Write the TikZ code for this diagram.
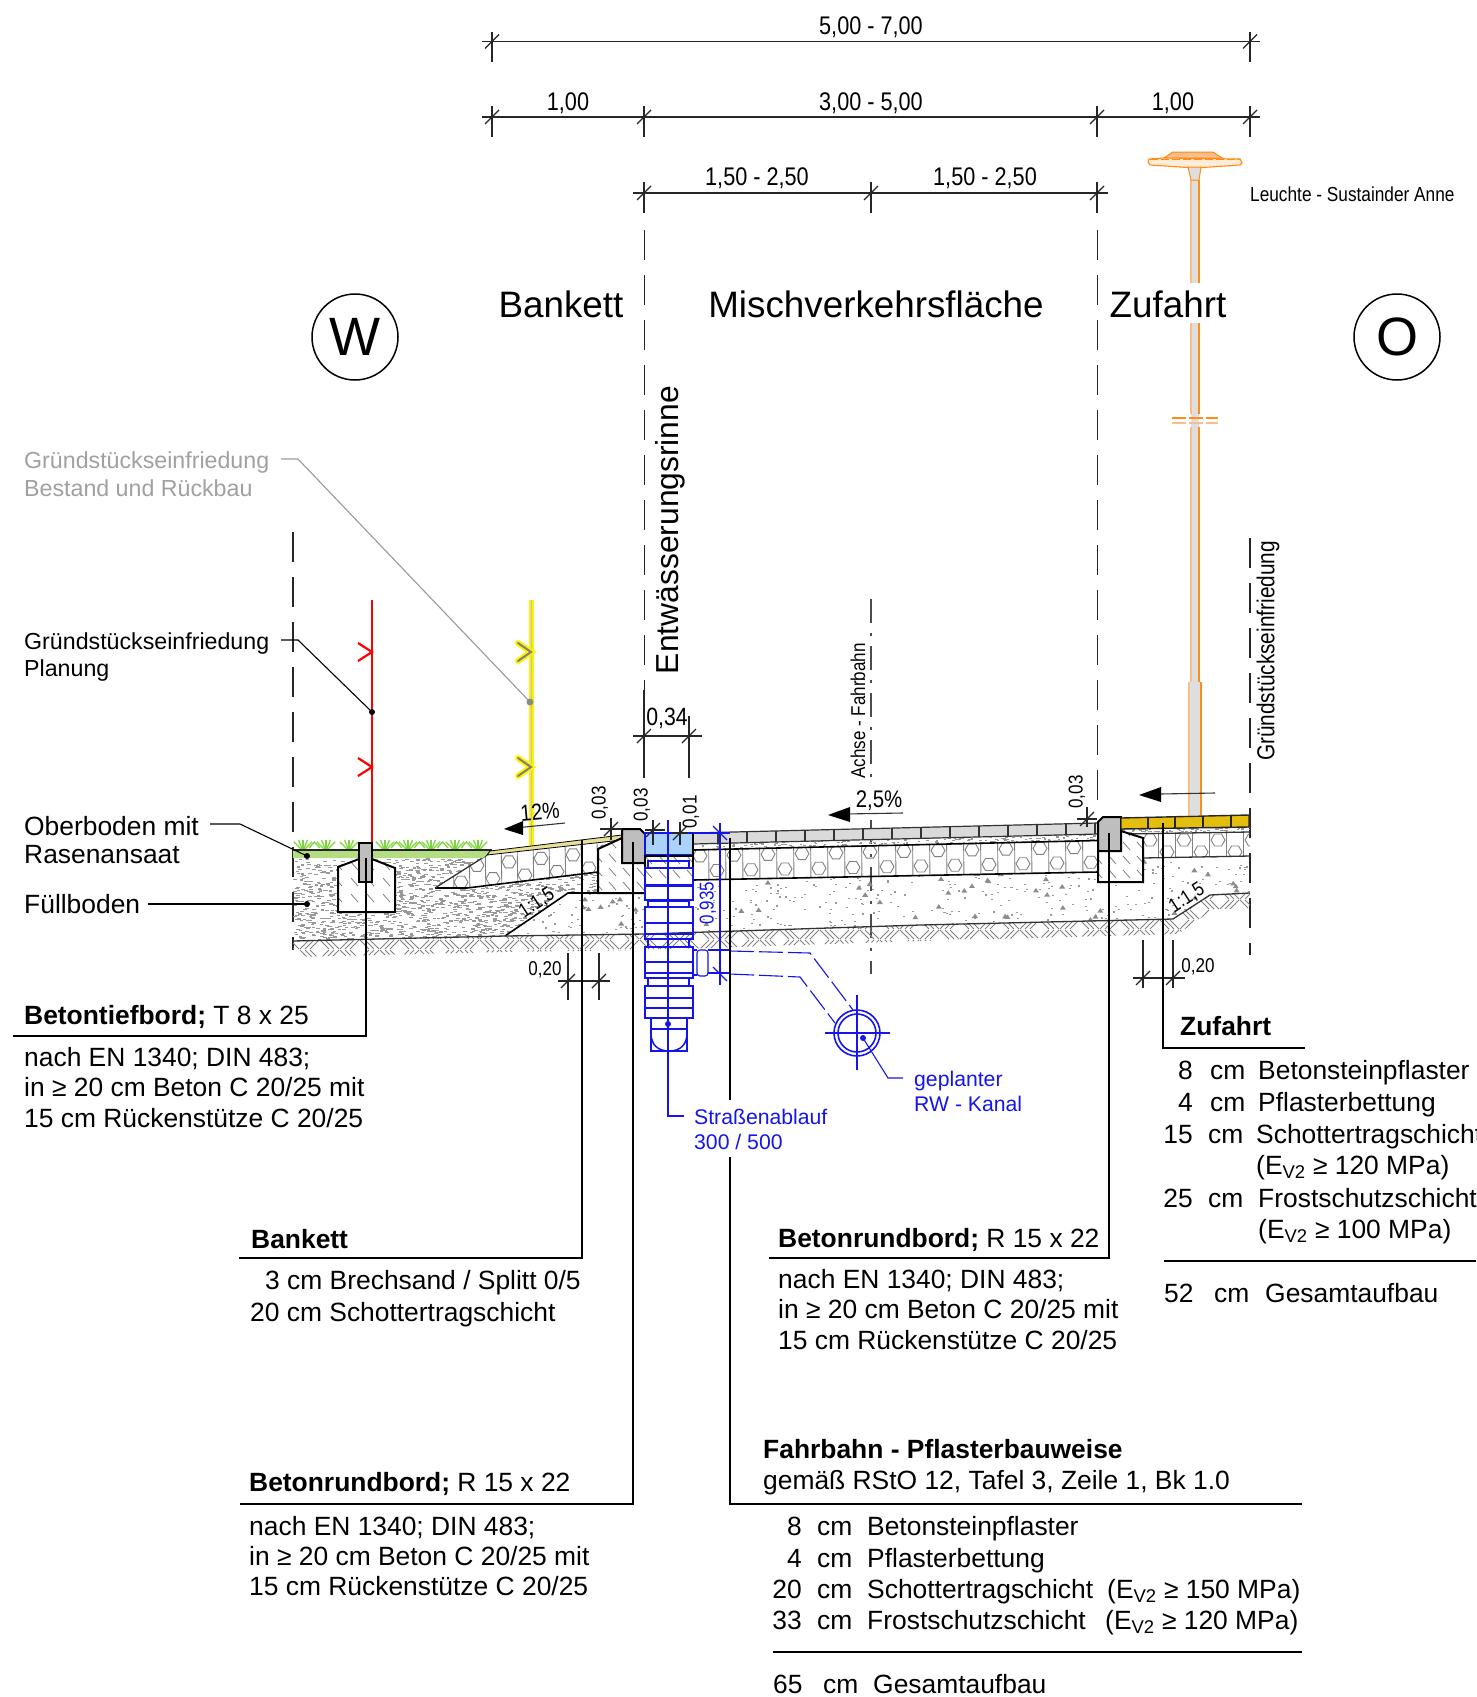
\documentclass[tikz,border=0pt]{standalone}
\usepackage{fontspec}
\setmainfont{Liberation Sans}
\newfontfamily\nf[FakeStretch=0.85]{Liberation Sans}
\newcommand{\fs}[1]{\fontsize{#1}{#1}\selectfont}
\definecolor{bluecad}{RGB}{20,20,235}
\definecolor{basin}{RGB}{170,210,250}
\definecolor{orangecad}{RGB}{255,140,20}
\definecolor{orangelt}{RGB}{248,190,140}
\definecolor{polegrey}{RGB}{222,222,222}
\definecolor{grassband}{RGB}{180,220,130}
\definecolor{grasstuft}{RGB}{125,215,60}
\definecolor{strip}{RGB}{232,224,150}
\definecolor{paver}{RGB}{228,190,15}
\definecolor{stone}{RGB}{218,218,218}
\definecolor{kerb}{RGB}{190,190,190}
\definecolor{greytext}{RGB}{160,160,160}
\tikzset{
  lab/.style={anchor=base west,inner sep=0pt,yshift=-9pt,font=\fs{26.4}},
  labr/.style={anchor=base east,inner sep=0pt,yshift=-9pt,font=\fs{26.4}},
  small/.style={inner sep=0pt,font=\nf\fs{20}},
  dimlab/.style={inner sep=0pt,yshift=-2pt,font=\nf\fs{25.5}},
  huge/.style={inner sep=0pt,font=\fs{36.8}},
  leader/.style={line width=1.1pt,black},
  dimline/.style={line width=1.1pt,black!85},
  blueline/.style={line width=1.1pt,bluecad},
  outline/.style={line width=2pt,black},
  thinl/.style={line width=1.1pt,black!80},
  hexl/.style={line width=.9pt,black!50},
  hatchl/.style={line width=.8pt,black!50},
  groundl/.style={line width=.9pt,black!50},
  dashaxis/.style={line width=1pt,black!85,dash pattern=on 30pt off 15pt},
  dashedge/.style={line width=2pt,black!85,dash pattern=on 30pt off 15pt},
  dashdot/.style={line width=1.6pt,black!70,dash pattern=on 24pt off 10pt on 3pt off 10pt},
  gullypart/.style={line width=1.5pt,bluecad},
  arrowhd/.style={fill=black,draw=none},
}
\newcommand{\hexa}[2]{\draw[hexl] ({#1+7},{#2}) -- ({#1+3.5},{#2+6}) -- ({#1-3.5},{#2+6}) -- ({#1-7},{#2}) -- ({#1-3.5},{#2-6}) -- ({#1+3.5},{#2-6}) -- cycle;}
\newcommand{\tick}[2]{\draw[dimline] ({#1-7},{#2+7}) -- ({#1+7},{#2-7});}
\newcommand{\vext}[3]{\draw[dimline] (#1,#2) -- (#1,#3);}
\newcommand{\stip}[6]{\foreach \ii in {1,...,#1}{\pgfmathsetmacro\px{#2+rnd*(#3-#2)}\pgfmathsetmacro\py{#4+rnd*(#5-#4)}\fill[black!40] (\px,\py) rectangle ++(#6,1.2);}}
\newcommand{\tris}[5]{\foreach \ii in {1,...,#1}{\pgfmathsetmacro\px{#2+rnd*(#3-#2)}\pgfmathsetmacro\py{#4+rnd*(#5-#4)}\fill[black!45] (\px,\py) -- ++(3,-4.5) -- ++(3,4.5) -- cycle;}}
\begin{document}
\begin{tikzpicture}[x=1pt,y=-1pt]
\useasboundingbox (0,0) rectangle (1476,1697);
\pgfmathsetseed{23}

% ---------- dimension chains
\draw[dimline] (482,41.5) -- (1260,41.5);
\vext{492}{32}{62}\vext{1250}{32}{62}\tick{492}{41.5}\tick{1250}{41.5}
\node[dimlab] (d1) at (871,25) {5,00 - 7,00};
\draw[dimline] (482,117) -- (1260,117);
\foreach \x in {492,644,1097,1250}{\vext{\x}{106}{137}\tick{\x}{117}}
\node[dimlab] (d2) at (568,101) {1,00};
\node[dimlab] (d3) at (871,101) {3,00 - 5,00};
\node[dimlab] (d4) at (1173,101) {1,00};
\draw[dimline] (633,193) -- (1108,193);
\foreach \x in {644,871,1097}{\vext{\x}{182}{213}\tick{\x}{193}}
\node[dimlab] (d5) at (757,176) {1,50 - 2,50};
\node[dimlab] (d6) at (985,176) {1,50 - 2,50};

% ---------- axes
\draw[dashaxis] (644,230) -- (644,700);
\draw[dashaxis] (1097,230) -- (1097,812);
\draw[dashdot] (871,599) -- (871,785);
\draw[dashdot] (871,820) -- (871,974);
\draw[dashedge] (293,532) -- (293,950);
\draw[dashedge] (1250,538) -- (1250,955);

% ---------- headings
\node[huge] (hBankett) at (561,304) {Bankett};
\node[huge] (hMisch) at (876,304) {Mischverkehrsfläche};
\node[huge] (hZuf) at (1168,304) {Zufahrt};
\node[draw,circle,line width=1.5pt,minimum size=86pt,inner sep=0pt,font=\fs{54}] (W) at (355,337) {W};
\node[draw,circle,line width=1.5pt,minimum size=86pt,inner sep=0pt,font=\fs{54}] (O) at (1397,337) {O};
\node[inner sep=0pt,rotate=90,font=\fs{31.8}] (rinne) at (670,530) {Entwässerungsrinne};
\node[small,rotate=90] (achse) at (858,711) {Achse - Fahrbahn};
\node[inner sep=0pt,rotate=90,font=\nf\fs{24.5}] (grfr) at (1268,651) {Gründstückseinfriedung};
\node[inner sep=0pt,anchor=west,font=\nf\fs{20.3}] (leuchte) at (1250,194) {Leuchte - Sustainder Anne};

% ---------- lamp
\fill[polegrey] (1191,180) rectangle (1199,283);
\draw[orangelt,line width=1.4pt] (1191,180) -- (1191,283);
\draw[orangecad,line width=1.1pt] (1199,180) -- (1199,283);
\fill[polegrey] (1191,323) rectangle (1199,682);
\draw[orangelt,line width=1.4pt] (1191,323) -- (1191,414) (1191,427) -- (1191,682);
\draw[orangecad,line width=1.1pt] (1199,323) -- (1199,414) (1199,427) -- (1199,682);
\fill[polegrey] (1189.5,682) rectangle (1201,815);
\draw[orangecad,line width=1.1pt] (1201,682) -- (1201,815);
\draw[orangelt,line width=1.4pt] (1189,682) -- (1189,815);
\draw[orangecad,line width=1.1pt,dash pattern=on 14pt off 3pt] (1172,418) -- (1218,418);
\draw[orangelt,line width=1.4pt,dash pattern=on 14pt off 3pt] (1172,423) -- (1218,423);
\draw[orangecad,line width=1pt,fill=orangelt] (1173,152) -- (1213,152) -- (1222,158) -- (1164,158) -- cycle;
\draw[orangecad,line width=1.1pt,fill=orange!15] (1164,158) -- (1240,159) -- (1242,163) -- (1240,165) -- (1195,168) -- (1150,165) -- (1148,162) -- (1149,159) -- cycle;
\draw[orangecad,line width=.8pt,dash pattern=on 8pt off 3pt] (1150,159) -- (1240,159);
\draw[orangecad,line width=1pt,fill=polegrey] (1188,167) -- (1201,167) -- (1199,180) -- (1191,180) -- cycle;

% ---------- soil regions
\begin{scope}
\clip (293,858) -- (483,858) -- (435,888) -- (467,888) -- (598,872) -- (598,893) -- (568,893) -- (505,936) -- (293,941) -- cycle;
\stip{1800}{293}{600}{858}{941}{3.5}
\end{scope}
\begin{scope}
\clip (568,893) -- (645,893) -- (645,934) -- (505,936) -- cycle;
\stip{70}{505}{645}{893}{936}{2}
\tris{12}{505}{645}{893}{936}
\end{scope}
\begin{scope}
\clip (693,880) -- (1098,872) -- (1098,882) -- (1143,882) -- (1143,858) -- (1250,856) -- (1250,893) -- (1210,895) -- (1173,919) -- (693,932) -- cycle;
\stip{400}{693}{1250}{856}{932}{2}
\tris{60}{693}{1250}{856}{932}
\end{scope}
% bedding
\begin{scope}
\clip (693,844) -- (1098,834) -- (1098,840) -- (693,849.5) -- cycle;
\stip{420}{693}{1098}{834}{850}{2.5}
\end{scope}
\begin{scope}
\clip (1121,829) -- (1250,827) -- (1250,832) -- (1121,834) -- cycle;
\stip{130}{1121}{1250}{826}{834}{2.5}
\end{scope}

% ---------- hexagon (base) layers
\begin{scope}
\clip (435,888) -- (487,855) -- (622,841) -- (598,849) -- (598,872) -- (467,888) -- cycle;
\foreach \k in {0,...,10}{
  \pgfmathsetmacro\hx{445+\k*16}
  \pgfmathsetmacro\ha{856-(\hx-490)*0.11+8+mod(\k,2)*15}
  \hexa{\hx}{\ha}
  \pgfmathsetmacro\vx{\hx+8}
  \draw[hexl] (\vx,840) -- (\vx+1,895);
}
\end{scope}
\begin{scope}
\clip (693,849) -- (1098,840) -- (1098,872) -- (693,880) -- cycle;
\foreach \k in {0,...,24}{
  \pgfmathsetmacro\hx{700+\k*17}
  \pgfmathsetmacro\ha{848-(\hx-693)*0.022+8+mod(\k,2)*15}
  \hexa{\hx}{\ha}
  \pgfmathsetmacro\vx{\hx+8.5}
  \draw[hexl] (\vx,830) -- (\vx+.5,885);
}
\end{scope}
\begin{scope}
\clip (1143,833) -- (1250,831) -- (1250,856) -- (1143,858) -- cycle;
\foreach \k in {0,...,6}{
  \pgfmathsetmacro\hx{1150+\k*17}
  \pgfmathsetmacro\ha{832+8+mod(\k,2)*12}
  \hexa{\hx}{\ha}
  \pgfmathsetmacro\vx{\hx+8.5}
  \draw[hexl] (\vx,825) -- (\vx,865);
}
\end{scope}

% ---------- layer lines
\draw[outline,line width=1.6pt] (435,888) -- (467,888) -- (598,872);
\draw[thinl,line width=1.3pt] (435,888) -- (487,855);
\draw[outline,line width=1.6pt] (693,850) -- (1098,840.5);
\draw[outline,line width=1.6pt] (693,880) -- (1098,872);
\draw[thinl,line width=1.3pt] (1143,858) -- (1250,856);
\draw[thinl,line width=1.3pt] (1121,834) -- (1250,832);
\draw[outline,line width=1.6pt] (505,936) -- (568,893) -- (645,893);

% ---------- ground line and hatching
\begin{scope}
\clip (293,941) -- (505,936) -- (645,934) -- (920,925) -- (1173,919) -- (1210,895) -- (1250,893) -- (1250,908) -- (1212,910) -- (1178,934) -- (920,941) -- (645,950) -- (505,952) -- (293,957) -- cycle;
\foreach \r in {0,...,8}{
  \pgfmathsetmacro\ry{880+\r*10}
  \pgfmathsetmacro\rx{280+mod(\r,2)*20}
  \foreach \n in {0,...,24}{
    \pgfmathsetmacro\gx{\rx+\n*40}
    \foreach \o in {0,5,10}{
      \draw[groundl] ({\gx+\o},\ry) -- ({\gx+\o+9},{\ry+9});
      \draw[groundl] ({\gx+\o+20},{\ry+9}) -- ({\gx+\o+29},\ry);
    }
  }
}
\end{scope}
\draw[thinl,line width=1.3pt] (293,941) -- (505,936) -- (645,934) -- (920,925) -- (1173,919) -- (1210,895) -- (1250,893);

% ---------- grass and topsoil
\foreach \x in {303,326,349,385,408,431,455,478}{
  \foreach \a/\l in {-45/13,-22/12,0/11,22/12,45/13}{
    \draw[grasstuft,line width=1.3pt] (\x,851) -- ++({sin(\a)*\l},{-cos(\a)*\l});
  }
}
\foreach \x in {303,385,408,431,455}{
  \draw[grasstuft,line width=1.3pt] (\x+6,848) -- (\x+11.5,842) -- (\x+17,848);
}
\fill[grassband] (293,850) -- (492,850) -- (483,858) -- (293,858) -- cycle;
\draw[black!85,line width=1.4pt] (293,850) -- (492,850);

% ---------- fences
\draw[red,line width=2.2pt] (372,600) -- (372,846);
\foreach \y in {652,767}{
  \draw[red,line width=2.2pt] (358,{\y-9}) -- (372,\y) -- (358,{\y+9});
}
\draw[yellow,line width=5pt] (531,600) -- (531,847);
\draw[black!25,line width=1pt] (531,600) -- (531,847);
\foreach \y in {652,767}{
  \draw[yellow,line width=6pt,line cap=round] (518,{\y-9}) -- (531,\y) -- (518,{\y+9});
  \draw[black!50,line width=2pt,line cap=round] (518,{\y-9}) -- (531,\y) -- (518,{\y+9});
}

% ---------- bankett strip
\draw[black,line width=.8pt,fill=strip] (490,851) -- (622,835) -- (622,840) -- (487,855) -- cycle;

% ---------- left bedding beton for T 8x25
\fill[white] (338,867) -- (359,859) -- (372,859) -- (395,868) -- (395,912) -- (338,912) -- cycle;
\begin{scope}
\clip (338,867) -- (359,859) -- (372,859) -- (395,868) -- (395,912) -- (338,912) -- cycle;
\foreach \cx in {335,351,...,395}{\foreach \cy in {862,878,...,905}{\draw[hatchl] (\cx,\cy) -- ++(7,8);}}
\end{scope}
\draw[outline] (359,859) -- (338,867) -- (338,912) -- (395,912) -- (395,868) -- (372,859);
\fill[kerb] (359,843) rectangle (372,882);
\draw[outline] (359,843) rectangle (372,882);

% ---------- left kerb
\fill[white] (598,849) -- (622,838) -- (622,863) -- (645,863) -- (645,893) -- (598,893) -- cycle;
\begin{scope}
\clip (598,849) -- (622,838) -- (622,863) -- (645,863) -- (645,893) -- (598,893) -- cycle;
\foreach \cx in {595,609,...,645}{\foreach \cy in {840,854,...,890}{\draw[hatchl] (\cx,\cy) -- ++(7,8);}}
\end{scope}
\draw[outline] (622,838) -- (598,849) -- (598,893) -- (645,893);
\fill[kerb] (622,829) -- (640,829) -- (645,834) -- (645,863) -- (622,863) -- cycle;
\draw[outline] (622,829) -- (640,829) -- (645,834) -- (645,863) -- (622,863) -- cycle;

% ---------- road pavers
\fill[stone] (693,833) -- (1098,823) -- (1098,834) -- (693,844) -- cycle;
\draw[black!80,line width=1.2pt] (693,833) -- (1098,823) (693,844) -- (1098,834);
\foreach \x in {718,747,776,805,834,863,892,921,950,979,1008,1037,1066,1095}{
  \pgfmathsetmacro\jy{833-(\x-693)*0.0247}
  \draw[black!80,line width=1.1pt] (\x,\jy) -- (\x,\jy+11);
}

% ---------- right kerb
\fill[white] (1121,831) -- (1143,838) -- (1143,882) -- (1098,882) -- (1098,851) -- (1121,851) -- cycle;
\begin{scope}
\clip (1121,831) -- (1143,838) -- (1143,882) -- (1098,882) -- (1098,851) -- (1121,851) -- cycle;
\foreach \cx in {1095,1109,...,1143}{\foreach \cy in {828,842,...,880}{\draw[hatchl] (\cx,\cy) -- ++(7,8);}}
\end{scope}
\draw[outline] (1121,831) -- (1143,838) -- (1143,882) -- (1098,882) -- (1098,851);
\fill[kerb] (1103,817) -- (1121,817) -- (1121,851) -- (1098,851) -- (1098,822) -- cycle;
\draw[outline] (1103,817) -- (1121,817) -- (1121,851) -- (1098,851) -- (1098,822) -- cycle;

% ---------- yellow pavers
\draw[black!85,line width=1.4pt,fill=paver] (1121,818) -- (1249,815) -- (1249,827) -- (1121,829) -- cycle;
\foreach \x/\jy in {1148/817.5,1175/817,1203/816.3,1231/815.7}{
  \draw[black!85,line width=1.2pt] (\x,\jy) -- (\x,\jy+11.5);
}

% ---------- gully
\fill[white] (645,856) rectangle (693,886);
\begin{scope}
\clip (645,856) rectangle (693,886);
\foreach \cx in {645,659,...,693}{\foreach \cy in {856,870,...,880}{\draw[hatchl] (\cx,\cy) -- ++(7,8);}}
\end{scope}
\draw[bluecad,line width=2.4pt,fill=basin] (645,833) rectangle (693,855);
\draw[black,line width=2.2pt] (645,855) -- (645,886) -- (693,886) -- (693,833);
\draw[black,line width=1.6pt] (645,856) -- (693,856);
\draw[gullypart,line width=2pt] (648,861) rectangle (689,868);
\draw[gullypart] (645,868) rectangle (693,885);
\draw[gullypart] (645,886) rectangle (693,900);
\draw[gullypart,line width=1.8pt] (648,901) rectangle (689,907);
\draw[gullypart] (645,907) rectangle (693,939);
\draw[gullypart] (645,923) -- (693,923) (645,934) -- (693,934);
\draw[gullypart,line width=1.8pt] (648,939) rectangle (689,947);
\draw[gullypart] (645,947) rectangle (693,978);
\draw[gullypart] (645,962) -- (693,962) (645,973) -- (693,973);
\draw[gullypart,line width=1.8pt] (648,978) rectangle (689,986);
\draw[gullypart] (645,986) rectangle (693,1018);
\draw[gullypart] (645,998) -- (693,998) (645,1008) -- (693,1008);
\draw[gullypart] (651,1018) -- (651,1051) -- (687,1051) -- (687,1018);
\draw[gullypart] (651,1029) -- (687,1029);
\draw[gullypart] (651,1033) .. controls (651,1045) and (658,1051) .. (669,1051) .. controls (680,1051) and (687,1045) .. (687,1033);
% pipe spigot
\draw[blueline] (693,950) -- (697,950) (693,975) -- (697,975);
\draw[blueline,rounded corners=3pt] (697,950) rectangle (708,976);
\draw[blueline] (708,950) -- (730,950) -- (730,973) -- (708,973);
% planned sewer
\coordinate (pipeC) at (857,1033);
\draw[bluecad,line width=1.6pt] (pipeC) circle[radius=23];
\draw[bluecad,line width=1.6pt] (pipeC) circle[radius=19];
\draw[blueline] (825,1033) -- (890,1033) (857,995) -- (857,1070);
\draw[blueline,dash pattern=on 24pt off 5pt] (730,951) -- (810,953) -- (853,1010);
\draw[blueline,dash pattern=on 24pt off 5pt] (730,974) -- (800,977) -- (835,1023);
% blue dimension
\draw[blueline] (720,823) -- (720,985);
\draw[blueline] (693,833) -- (730,833);
\draw[blueline] (713,826) -- (727,840);
\draw[blueline] (713,967) -- (727,981);
\node[inner sep=0pt,rotate=90,text=bluecad,font=\nf\fs{20}] (d935) at (708,903) {0,935};

% ---------- small dimensions
\draw[dimline] (633,736) -- (702,736);
\vext{644}{690}{778}\vext{689}{716}{778}\tick{644}{736}\tick{689}{736}
\node[inner sep=0pt,font=\nf\fs{25}] (d034) at (667,718) {0,34};
\draw[dimline] (600,829) -- (622,829);\vext{611}{818}{840}\tick{611}{829}
\node[small,rotate=90] (d03a) at (600,803) {0,03};
\draw[dimline] (645,830) -- (665,830);\vext{653}{820}{845}\tick{653}{830}
\node[small,rotate=90] (d03b) at (642,805) {0,03};
\draw[dimline] (672,833) -- (688,833);\vext{680}{822}{845}\tick{680}{833}
\node[small,rotate=90] (d01) at (691,812) {0,01};
\draw[dimline] (1077,819) -- (1097,819);\vext{1087}{807}{827}\tick{1087}{819}
\node[small,rotate=90] (d03c) at (1077,792) {0,03};
\draw[dimline] (558,981) -- (610,981);
\vext{568}{953}{1000}\vext{599}{953}{1000}\tick{568}{981}\tick{599}{981}
\node[small] (d20a) at (545,970) {0,20};
\draw[dimline] (1133,978) -- (1185,978);
\vext{1143}{940}{988}\vext{1173}{940}{988}\tick{1143}{978}\tick{1173}{978}
\node[small] (d20b) at (1198,967) {0,20};
\node[small,rotate=33] (s1) at (537,903) {1:1,5};
\node[small,rotate=33] (s2) at (1187,898) {1:1,5};

% ---------- slope arrows
\node[inner sep=0pt,rotate=5,font=\nf\fs{23}] (p12) at (540,812) {12\%};
\draw[thinl] (565,823) -- (520,827.5);
\fill[arrowhd] (504,829) -- (523,821) -- (523,835) -- cycle;
\node[inner sep=0pt,font=\nf\fs{24}] (p25) at (879,801) {2,5\%};
\draw[thinl] (903,813) -- (845,814);
\fill[arrowhd] (828,815) -- (850,807) -- (850,822) -- cycle;
\draw[thinl] (1215,793) -- (1160,794);
\fill[arrowhd] (1139,795) -- (1161,787) -- (1161,802) -- cycle;

% ---------- left labels
\node[lab,text=greytext,font=\fs{23.2}] (g1) at (24,459) {Gründstückseinfriedung};
\node[lab,text=greytext,font=\fs{23.2}] (g2) at (24,487) {Bestand und Rückbau};
\coordinate (g1a) at (281,459);\coordinate (g1b) at (298,459);\coordinate (g1c) at (530,702);
\draw[black!40,line width=1.1pt] (g1a) -- (g1b) -- (g1c);
\fill[black!45] (g1c) circle[radius=3.5];
\node[lab,font=\fs{23.2}] (p1) at (24,640) {Gründstückseinfriedung};
\node[lab,font=\fs{23.2}] (p2) at (24,667) {Planung};
\coordinate (p1a) at (281,640);\coordinate (p1b) at (298,640);\coordinate (p1c) at (372,712);
\draw[leader] (p1a) -- (p1b) -- (p1c);
\fill[black] (p1c) circle[radius=3];
\node[lab] (o1) at (24,826) {Oberboden mit};
\node[lab] (o2) at (24,854) {Rasenansaat};
\coordinate (o1a) at (210,824);\coordinate (o1b) at (240,824);\coordinate (o1c) at (307,856);
\draw[leader] (o1a) -- (o1b) -- (o1c);
\fill[black] (o1c) circle[radius=3];
\node[lab] (f1) at (24,904) {Füllboden};
\coordinate (f1a) at (148,904);\coordinate (f1b) at (307,904);
\draw[leader] (f1a) -- (f1b);
\fill[black] (f1b) circle[radius=3];

% ---------- Betontiefbord
\coordinate (l1a) at (366,858);\coordinate (l1b) at (366,1036);\coordinate (l1c) at (13,1036);
\draw[leader] (l1a) -- (l1b) -- (l1c);
\node[lab] (t1) at (24,1015) {\textbf{Betontiefbord;} T 8 x 25};
\node[lab] (t2) at (24,1057) {nach EN 1340; DIN 483;};
\node[lab] (t3) at (24,1087) {in ≥ 20 cm Beton C 20/25 mit};
\node[lab] (t4) at (24,1118) {15 cm Rückenstütze C 20/25};

% ---------- Bankett
\coordinate (l2a) at (582,840);\coordinate (l2b) at (582,1258);\coordinate (l2c) at (239,1258);
\draw[leader] (l2a) -- (l2b) -- (l2c);
\node[lab] (b1) at (251,1239) {\textbf{Bankett}};
\node[lab] (b2) at (265,1280) {3 cm Brechsand / Splitt 0/5};
\node[lab] (b3) at (250,1312) {20 cm Schottertragschicht};

% ---------- Betonrundbord left
\coordinate (l3a) at (633,842);\coordinate (l3b) at (633,1504);\coordinate (l3c) at (240,1504);
\draw[leader] (l3a) -- (l3b) -- (l3c);
\node[lab] (r1) at (249,1482) {\textbf{Betonrundbord;} R 15 x 22};
\node[lab] (r2) at (249,1526) {nach EN 1340; DIN 483;};
\node[lab] (r3) at (249,1556) {in ≥ 20 cm Beton C 20/25 mit};
\node[lab] (r4) at (249,1586) {15 cm Rückenstütze C 20/25};

% ---------- Betonrundbord right
\coordinate (l4a) at (1109,833);\coordinate (l4b) at (1109,1258);\coordinate (l4c) at (769,1258);
\draw[leader] (l4a) -- (l4b) -- (l4c);
\node[lab] (q1) at (778,1238) {\textbf{Betonrundbord;} R 15 x 22};
\node[lab] (q2) at (778,1279) {nach EN 1340; DIN 483;};
\node[lab] (q3) at (778,1309) {in ≥ 20 cm Beton C 20/25 mit};
\node[lab] (q4) at (778,1340) {15 cm Rückenstütze C 20/25};

% ---------- Fahrbahn
\coordinate (l5a) at (730,838);\coordinate (l5g) at (730,1100);\coordinate (l5h) at (730,1157);\coordinate (l5b) at (730,1504);\coordinate (l5c) at (1302,1504);
\draw[leader] (l5a) -- (l5g);
\draw[leader] (l5h) -- (l5b) -- (l5c);
\node[lab] (fb1) at (763,1449) {\textbf{Fahrbahn - Pflasterbauweise}};
\node[lab] (fb2) at (763,1480) {gemäß RStO 12, Tafel 3, Zeile 1, Bk 1.0};
\node[labr] (fn1) at (802,1526) {8};
\node[lab] (fc1) at (817,1526) {cm};
\node[lab] (fm1) at (867,1526) {Betonsteinpflaster};
\node[labr] (fn2) at (802,1558) {4};
\node[lab] (fc2) at (817,1558) {cm};
\node[lab] (fm2) at (867,1558) {Pflasterbettung};
\node[labr] (fn3) at (802,1589) {20};
\node[lab] (fc3) at (817,1589) {cm};
\node[lab] (fm3) at (867,1589) {Schottertragschicht};
\node[lab] (fe3) at (1107,1589) {(E\textsubscript{V2} ≥ 150 MPa)};
\node[labr] (fn4) at (802,1620) {33};
\node[lab] (fc4) at (817,1620) {cm};
\node[lab] (fm4) at (867,1620) {Frostschutzschicht};
\node[lab] (fe4) at (1105,1620) {(E\textsubscript{V2} ≥ 120 MPa)};
\coordinate (fs1) at (773,1652);\coordinate (fs2) at (1302,1652);
\draw[leader] (fs1) -- (fs2);
\node[lab] (fs3) at (773,1684) {65};
\node[lab] (fs4) at (823,1684) {cm};
\node[lab] (fs5) at (873,1684) {Gesamtaufbau};

% ---------- Zufahrt
\coordinate (l6a) at (1163,823);\coordinate (l6b) at (1163,1048);\coordinate (l6c) at (1305,1048);
\draw[leader] (l6a) -- (l6b) -- (l6c);
\node[lab] (z0) at (1180,1026) {\textbf{Zufahrt}};
\node[labr] (zn1) at (1193,1070) {8};
\node[lab] (zc1) at (1210,1070) {cm};
\node[lab] (zm1) at (1258,1070) {Betonsteinpflaster};
\node[labr] (zn2) at (1193,1102) {4};
\node[lab] (zc2) at (1210,1102) {cm};
\node[lab] (zm2) at (1258,1102) {Pflasterbettung};
\node[labr] (zn3) at (1193,1134) {15};
\node[lab] (zc3) at (1208,1134) {cm};
\node[lab] (zm3) at (1256,1134) {Schottertragschicht};
\node[lab] (ze3) at (1256,1165) {(E\textsubscript{V2} ≥ 120 MPa)};
\node[labr] (zn4) at (1193,1198) {25};
\node[lab] (zc4) at (1208,1198) {cm};
\node[lab] (zm4) at (1258,1198) {Frostschutzschicht};
\node[lab] (ze4) at (1258,1229) {(E\textsubscript{V2} ≥ 100 MPa)};
\coordinate (zs1) at (1164,1261);\coordinate (zs2) at (1476,1261);
\draw[leader] (zs1) -- (zs2);
\node[lab] (zs3) at (1164,1293) {52};
\node[lab] (zs4) at (1214,1293) {cm};
\node[lab] (zs5) at (1265,1293) {Gesamtaufbau};

% ---------- gully and sewer leaders (blue)
\coordinate (b1a) at (668,820);\coordinate (b1b) at (668,1116);\coordinate (b1c) at (684,1116);
\draw[blueline] (b1a) -- (b1b) -- (b1c);
\fill[bluecad] (668,1024) circle[radius=3];
\node[lab,text=bluecad,font=\fs{21.2},yshift=2pt] (st1) at (694,1117) {Straßenablauf};
\node[lab,text=bluecad,font=\fs{21.2},yshift=2pt] (st2) at (694,1142) {300 / 500};
\coordinate (b2a) at (863,1038);\coordinate (b2b) at (888,1078);\coordinate (b2c) at (903,1078);
\draw[blueline] (b2a) -- (b2b) -- (b2c);
\fill[bluecad] (b2a) circle[radius=3];
\node[lab,text=bluecad,font=\fs{21.2},yshift=2pt] (k1) at (914,1079) {geplanter};
\node[lab,text=bluecad,font=\fs{21.2},yshift=2pt] (k2) at (914,1104) {RW - Kanal};
\end{tikzpicture}
\end{document}
